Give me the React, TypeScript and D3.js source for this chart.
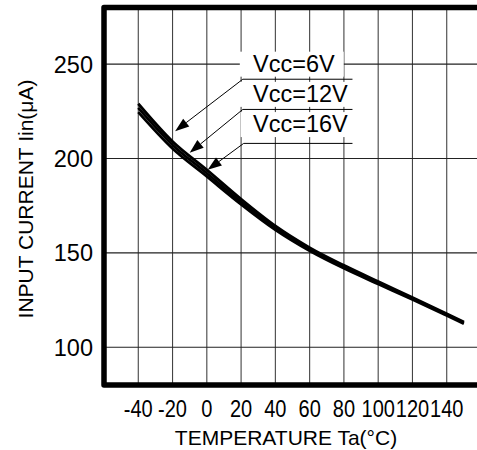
import React from 'react';
import * as d3 from 'd3';

// temperature points (°C) and input current per supply voltage (µA)
const temps = [-40, -20, 0, 20, 40, 60, 80, 100, 120, 140, 150];
const vcc6 = [229, 209, 194, 178.5, 164.3, 152.8, 143.4, 134.8, 126.4, 117.8, 113.4];
const vcc12 = [226.8, 207.2, 192.2, 177, 163.2, 151.9, 142.7, 134.2, 125.9, 117.3, 113];
const vcc16 = [224.6, 205.3, 190.5, 175.7, 162.2, 151.1, 141.8, 133.5, 125.3, 116.8, 112.5];
const seriesNames = ['Vcc=6V', 'Vcc=12V', 'Vcc=16V'];

const xTicks = [-40, -20, 0, 20, 40, 60, 80, 100, 120, 140];
const yTicks = [100, 150, 200, 250];

// annotation anchors, in data units [temp, current]
const arrowTips = [[-18.5, 214.5], [-10, 203], [0.5, 194]];
const arrowTails = [[21, 242], [21, 226], [21.5, 208]];
const labelPos = [[27, 246], [27, 230], [27, 214]];
const labelLineEnd = 85;

const font = 'Liberation Sans, Arial, sans-serif';

function measure(text: string, size: number) {
  const c = document.createElement('canvas').getContext('2d');
  if (!c) return text.length * size * 0.55;
  c.font = `${size}px ${font}`;
  return c.measureText(text).width;
}

export default function App() {
  const width = 477;
  const height = 450;
  const left = 104;
  const right = 481;
  const top = 7.5;
  const bottom = 385;

  const x = d3.scaleLinear().domain([-60, 160]).range([left, right]);
  const y = d3.scaleLinear().domain([80, 280]).range([bottom, top]);

  const line = d3.line<number>()
    .x((d, i) => x(temps[i]))
    .y(d => y(d))
    .curve(d3.curveMonotoneX);

  const series = [vcc6, vcc12, vcc16];

  return (
    <svg width={width} height={height} style={{ position: 'absolute', left: 0, top: 0 }}
      fontFamily={font}>
      <rect x={0} y={0} width={width} height={height} fill="#fff" />

      {/* vertical gridlines */}
      {xTicks.map(t => (
        <line key={'vx' + t} x1={x(t)} x2={x(t)} y1={top} y2={bottom} stroke="#444" strokeWidth={1.1} />
      ))}
      {/* horizontal gridlines */}
      {yTicks.map(t => (
        <line key={'hy' + t} x1={left} x2={right} y1={y(t)} y2={y(t)} stroke="#222" strokeWidth={1.1} />
      ))}

      {/* curves */}
      {series.map((s, i) => (
        <path key={'s' + i} d={line(s) || ''} fill="none" stroke="#000" strokeWidth={2.8}
          strokeLinejoin="round" />
      ))}

      {/* annotations */}
      {seriesNames.map((name, i) => {
        const tx = x(labelPos[i][0]);
        const ty = y(labelPos[i][1]);
        const w = measure(name, 23.5);
        const ex = x(arrowTails[i][0]);
        const ey = y(arrowTails[i][1]);
        const px = x(arrowTips[i][0]);
        const py = y(arrowTips[i][1]);
        const ang = Math.atan2(py - ey, px - ex);
        const len = 14;
        const hw = 5;
        const bx = px - len * Math.cos(ang);
        const by = py - len * Math.sin(ang);
        const head = [
          [px, py],
          [bx + hw * Math.sin(ang), by - hw * Math.cos(ang)],
          [bx - hw * Math.sin(ang), by + hw * Math.cos(ang)],
        ].map(p => p.join(',')).join(' ');
        return (
          <g key={'a' + i}>
            <rect x={ex - 3} y={ty - 20} width={tx + w + 9 - (ex - 3)} height={25} fill="#fff" />
            <text x={tx} y={ty} fontSize={23.5} fill="#000">{name}</text>
            <line x1={ex} x2={x(labelLineEnd)} y1={ey} y2={ey} stroke="#000" strokeWidth={1} />
            <line x1={ex} y1={ey} x2={bx} y2={by} stroke="#000" strokeWidth={1} />
            <polygon points={head} fill="#000" />
          </g>
        );
      })}

      {/* frame */}
      <rect x={left} y={top} width={right - left} height={bottom - top} fill="none"
        stroke="#000" strokeWidth={5.5} strokeLinejoin="round" />

      {/* y tick labels */}
      {yTicks.map(t => (
        <text key={'yl' + t} x={93} y={y(t) + 8.4} textAnchor="end" fontSize={23.5} fill="#000">{t}</text>
      ))}
      {/* x tick labels */}
      {xTicks.map(t => (
        <text key={'xl' + t} transform={`translate(${x(t)},417) scale(0.87,1)`} textAnchor="middle"
          fontSize={23} fill="#000">{t}</text>
      ))}

      {/* axis titles */}
      <text x={286} y={445} textAnchor="middle" fontSize={21} fill="#000">TEMPERATURE Ta(°C)</text>
      <text transform="translate(32.5,199) rotate(-90)" textAnchor="middle" fontSize={21} fill="#000">
        INPUT CURRENT Iin(μA)
      </text>
    </svg>
  );
}
